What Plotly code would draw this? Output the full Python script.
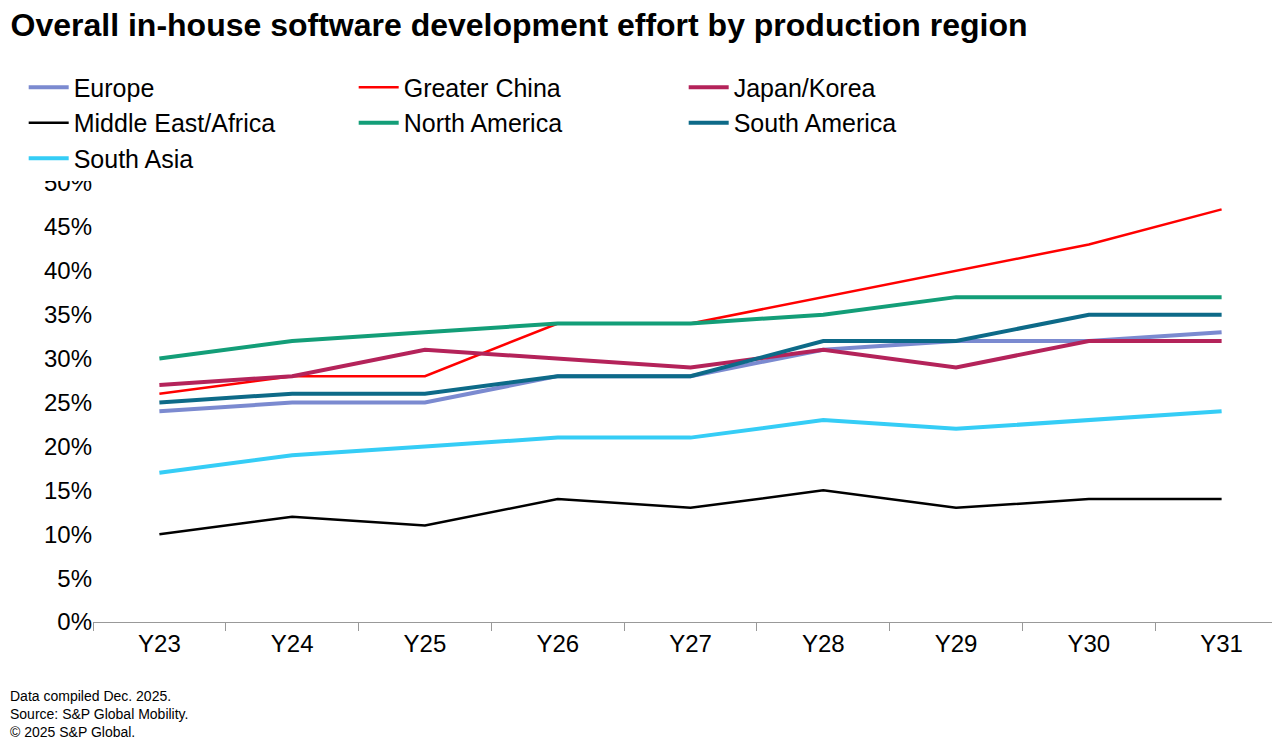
import plotly.graph_objects as go

years = ["Y23","Y24","Y25","Y26","Y27","Y28","Y29","Y30","Y31"]
europe = [24,25,25,28,28,31,32,32,33]
greater_china = [26,28,28,34,34,37,40,43,47]
japan_korea = [27,28,31,30,29,31,29,32,32]
me_africa = [10,12,11,14,13,15,13,14,14]
north_america = [30,32,33,34,34,35,37,37,37]
south_america = [25,26,26,28,28,32,32,35,35]
south_asia = [17,19,20,21,21,23,22,23,24]

series = [
    ("Europe", europe, "#7B8AD0"),
    ("Greater China", greater_china, "#FF0000"),
    ("Japan/Korea", japan_korea, "#B4235A"),
    ("Middle East/Africa", me_africa, "#000000"),
    ("North America", north_america, "#139E78"),
    ("South America", south_america, "#0D6A88"),
    ("South Asia", south_asia, "#35CDF6"),
]

fig = go.Figure()
for name, vals, col in series:
    w = 2.5 if name in ("Greater China", "Middle East/Africa") else 4
    fig.add_trace(go.Scatter(x=years, y=vals, name=name, mode="lines",
                             line=dict(color=col, width=w)))

fig.update_layout(
    width=1280, height=741, plot_bgcolor="white", paper_bgcolor="white",
    margin=dict(l=85, r=0, t=175, b=127, autoexpand=False),
    font=dict(family="Liberation Sans, Arial", color="#000"),
    title=dict(text="<b>Overall in-house software development effort by production region</b>",
               x=0.002, xanchor="left", y=0.992, yanchor="top",
               font=dict(size=32, color="#000")),
    legend=dict(orientation="h", x=-0.058, xanchor="left", y=1.27, yanchor="top",
                entrywidth=275, entrywidthmode="pixels", font=dict(size=25),
                tracegroupgap=0, itemwidth=40),
    xaxis=dict(range=[-0.5, 8.5], tickson="boundaries", ticks="outside", ticklen=8,
               tickcolor="#999", showline=True, linecolor="#999", showgrid=False,
               tickfont=dict(size=24)),
    yaxis=dict(range=[0, 50], dtick=5, ticksuffix="%", showgrid=False, zeroline=False,
               showline=False, tickfont=dict(size=24)),
    showlegend=True,
)
fig.add_annotation(text="Data compiled Dec. 2025.<br>Source: S&P Global Mobility.<br>© 2025 S&P Global.",
                   xref="paper", yref="paper", x=-0.071, y=-0.145, xanchor="left", yanchor="top",
                   showarrow=False, align="left", font=dict(size=14))
fig.write_html("out.html")
